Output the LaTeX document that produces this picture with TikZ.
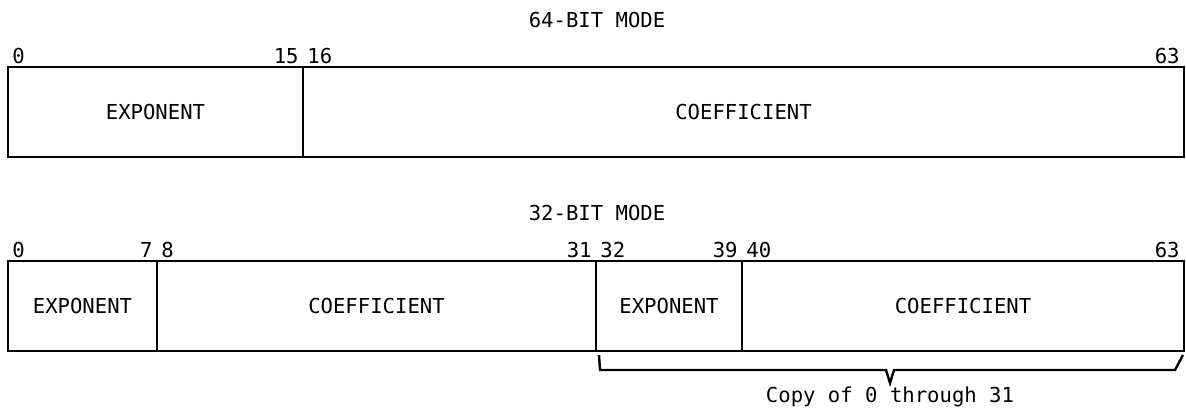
\documentclass[tikz,border=0pt]{standalone}
\usepackage{fontspec}
\setmainfont{DejaVu Sans Mono}
\usetikzlibrary{positioning,calc}
\tikzset{
  field/.style={draw, line width=1.2pt, minimum height=45pt, inner sep=0pt, outer sep=0pt, font=\fontsize{10.3}{12}\selectfont},
  bitno/.style={inner xsep=2pt, inner ysep=1.5pt, font=\fontsize{10.3}{12}\selectfont},
  modetitle/.style={font=\fontsize{10.3}{12}\selectfont},
  bracket/.style={line width=1.2pt, line join=miter}
}

\begin{document}
\begin{tikzpicture}
  \useasboundingbox (0,0) rectangle (593pt,208pt);
  \node[modetitle] (t64) at (298.5pt,198pt) {64-BIT MODE};
  \node[field, minimum width=147.5pt, anchor=north west] (exp) at (4pt,174.5pt) {EXPONENT};
  \node[field, minimum width=440.5pt, right=0pt of exp] (coef) {COEFFICIENT};
  \node[bitno, anchor=south west] (b0) at (exp.north west) {0};
  \node[bitno, anchor=south east] (b15) at (exp.north east) {15};
  \node[bitno, anchor=south west] (b16) at (coef.north west) {16};
  \node[bitno, anchor=south east] (b63) at (coef.north east) {63};

  \node[modetitle] (t32) at (298.5pt,101.5pt) {32-BIT MODE};
  \node[field, minimum width=74.5pt, anchor=north west] (expa) at (4pt,77.5pt) {EXPONENT};
  \node[field, minimum width=219.5pt, right=0pt of expa] (coefa) {COEFFICIENT};
  \node[field, minimum width=73pt, right=0pt of coefa] (expb) {EXPONENT};
  \node[field, minimum width=221pt, right=0pt of expb] (coefb) {COEFFICIENT};
  \node[bitno, anchor=south west] (a0) at (expa.north west) {0};
  \node[bitno, anchor=south east] (a7) at (expa.north east) {7};
  \node[bitno, anchor=south west] (a8) at (coefa.north west) {8};
  \node[bitno, anchor=south east] (a31) at (coefa.north east) {31};
  \node[bitno, anchor=south west] (a32) at (expb.north west) {32};
  \node[bitno, anchor=south east] (a39) at (expb.north east) {39};
  \node[bitno, anchor=south west] (a40) at (coefb.north west) {40};
  \node[bitno, anchor=south east] (a63) at (coefb.north east) {63};

  \coordinate (mid) at ($(expb.south west)!0.5!(coefb.south east)$);
  \coordinate (tip) at ([yshift=-16pt]mid);
  \draw[bracket] ([xshift=1.5pt,yshift=-2pt]expb.south west) -- ([xshift=2pt,yshift=-9.5pt]expb.south west)
    -- ([xshift=-2pt,yshift=-9.5pt]mid) -- (tip) -- ([xshift=2pt,yshift=-9.5pt]mid)
    -- ([xshift=-4.5pt,yshift=-9.5pt]coefb.south east) -- ([xshift=-0.5pt,yshift=-2pt]coefb.south east);
  \node[bitno, anchor=north] (copy) at (tip) {Copy of 0 through 31};
\end{tikzpicture}
\end{document}
